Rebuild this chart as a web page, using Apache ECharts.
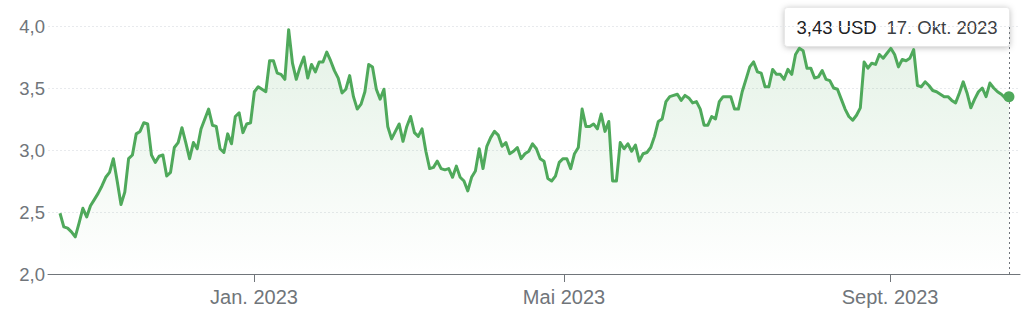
<!DOCTYPE html>
<html>
<head>
<meta charset="utf-8">
<script src="https://cdn.jsdelivr.net/npm/echarts@6/dist/echarts.min.js"></script>
<style>
html,body{margin:0;padding:0;background:#fff;}
#chart{width:1024px;height:321px;}
</style>
</head>
<body>
<div id="chart"></div>
<script>
// Daily closing prices (USD), 17 Oct 2022 -> 17 Oct 2023 (trading days)
const prices = [
  2.49, 2.38, 2.37, 2.34, 2.30, 2.41, 2.53, 2.46, 2.55, 2.60, 2.65, 2.71, 2.78, 2.82, 2.93, 2.75, 2.56, 2.66, 2.93, 2.96,
  3.13, 3.15, 3.22, 3.21, 2.96, 2.90, 2.95, 2.96, 2.79, 2.82, 3.02, 3.06, 3.18, 3.06, 2.93, 3.06, 3.01,
  3.17, 3.25, 3.33, 3.20, 3.19, 3.01, 2.98, 3.13, 3.05, 3.27, 3.30, 3.14, 3.21, 3.22, 3.47, 3.51, 3.49, 3.47, 3.72, 3.72,
  3.62, 3.61, 3.57, 3.97, 3.70, 3.57, 3.67, 3.75, 3.58, 3.69, 3.63, 3.71, 3.71, 3.79,
  3.72, 3.64, 3.58, 3.46, 3.49, 3.60, 3.43, 3.33, 3.37, 3.47, 3.69, 3.67, 3.49, 3.41, 3.49, 3.19, 3.09, 3.15, 3.21, 3.07,
  3.19, 3.27, 3.14, 3.11, 3.17, 2.99, 2.85, 2.86, 2.91, 2.85, 2.84, 2.85, 2.78, 2.87, 2.78, 2.75, 2.67, 2.78,
  2.83, 3.01, 2.85, 3.03, 3.10, 3.15, 3.12, 3.03, 3.06, 2.97, 2.99, 3.02, 2.93, 2.97, 2.99, 3.05, 3.01, 2.93, 2.91, 2.77,
  2.75, 2.79, 2.90, 2.93, 2.93, 2.85, 2.97, 3.02, 3.33, 3.19, 3.19, 3.21, 3.17, 3.29, 3.15, 3.23, 2.75,
  2.75, 3.06, 3.01, 3.05, 2.99, 3.04, 2.91, 2.97, 2.98, 3.02, 3.11, 3.23, 3.25, 3.39, 3.43, 3.44, 3.45, 3.40, 3.44, 3.42,
  3.38, 3.39, 3.33, 3.20, 3.20, 3.27, 3.25, 3.39, 3.43, 3.43, 3.43, 3.33, 3.33, 3.47, 3.57, 3.67, 3.71,
  3.63, 3.62, 3.51, 3.51, 3.65, 3.61, 3.61, 3.57, 3.65, 3.61, 3.77, 3.82, 3.80, 3.66, 3.66, 3.58, 3.59, 3.64, 3.57, 3.56,
  3.50, 3.49, 3.41, 3.33, 3.27, 3.24, 3.28, 3.34, 3.71, 3.66, 3.70, 3.69, 3.77, 3.74, 3.78, 3.82,
  3.77, 3.67, 3.73, 3.72, 3.74, 3.81, 3.52, 3.51, 3.55, 3.52, 3.48, 3.47, 3.45, 3.43, 3.43, 3.40, 3.38, 3.46, 3.55, 3.46,
  3.34, 3.41, 3.47, 3.50, 3.43, 3.54, 3.50, 3.47, 3.45, 3.42, 3.43
];
// Month tick positions (in trading-day index) and their labels
const tickPositions = [50.9, 132.25, 217.8];
const tickLabels = ['Jan. 2023', 'Mai 2023', 'Sept. 2023'];
const lastDateLabel = '17. Okt. 2023';
const currency = 'USD';

const FONT = '"Liberation Sans", Arial, sans-serif';
const GREEN = '#4fa95b';
const lastIdx = prices.length - 1;
const lastVal = prices[lastIdx];
const fmt = v => v.toFixed(2).replace('.', ',');

const chart = echarts.init(document.getElementById('chart'), null, {renderer: 'svg'});
chart.setOption({
  animation: false,
  backgroundColor: '#fff',
  grid: {left: 48, right: 4, top: 26, bottom: 47},
  xAxis: {
    type: 'value',
    min: -3.15,
    max: lastIdx + 2.9,
    splitLine: {show: false},
    axisLine: {show: true, lineStyle: {color: '#70757a', width: 1}},
    axisTick: {show: true, customValues: tickPositions, length: 8, lineStyle: {color: '#70757a'}},
    axisLabel: {
      customValues: tickPositions,
      color: '#70757a', fontSize: 20, fontFamily: FONT, margin: 13,
      formatter: v => {
        const i = tickPositions.findIndex(t => Math.abs(t - v) < 0.01);
        return i >= 0 ? tickLabels[i] : '';
      }
    }
  },
  yAxis: {
    type: 'value',
    min: 2, max: 4, interval: 0.5,
    axisLine: {show: false},
    axisTick: {show: false},
    axisLabel: {color: '#70757a', fontSize: 18.5, fontFamily: FONT, margin: 3,
      formatter: v => v.toFixed(1).replace('.', ',')},
    splitLine: {show: true, lineStyle: {color: '#e8eaed', type: [2, 2], width: 1}}
  },
  series: [{
    type: 'line',
    data: prices.map((v, i) => [i, v]),
    showSymbol: false,
    symbol: 'none',
    lineStyle: {color: GREEN, width: 3, join: 'round'},
    areaStyle: {
      origin: 'start',
      color: new echarts.graphic.LinearGradient(0, 0, 0, 1, [
        {offset: 0, color: 'rgba(79,169,91,0.22)'},
        {offset: 1, color: 'rgba(79,169,91,0.0)'}
      ])
    },
    markLine: {
      silent: true, symbol: 'none', label: {show: false},
      lineStyle: {color: '#70757a', type: [2, 3], width: 1},
      data: [{xAxis: lastIdx}]
    },
    markPoint: {
      silent: true, symbol: 'circle', symbolSize: 11,
      itemStyle: {color: GREEN},
      label: {show: false},
      data: [{coord: [lastIdx, lastVal]}]
    },
    z: 3
  }],
  graphic: [{
    type: 'group',
    right: 14, top: 7,
    z: 100,
    children: [
      {type: 'rect', shape: {x: 0, y: 0, width: 225, height: 39, r: 3},
       style: {fill: '#fff', stroke: 'rgba(0,0,0,0.06)', lineWidth: 1,
               shadowBlur: 6, shadowColor: 'rgba(0,0,0,0.28)', shadowOffsetY: 1}},
      {type: 'text', x: 12, y: 20,
       style: {text: fmt(lastVal) + ' ' + currency, fill: '#202124', font: '18.5px ' + FONT, verticalAlign: 'middle'}},
      {type: 'text', x: 102, y: 20,
       style: {text: lastDateLabel, fill: '#3c4043', font: '18.5px ' + FONT, verticalAlign: 'middle'}}
    ]
  }]
});
</script>
</body>
</html>
